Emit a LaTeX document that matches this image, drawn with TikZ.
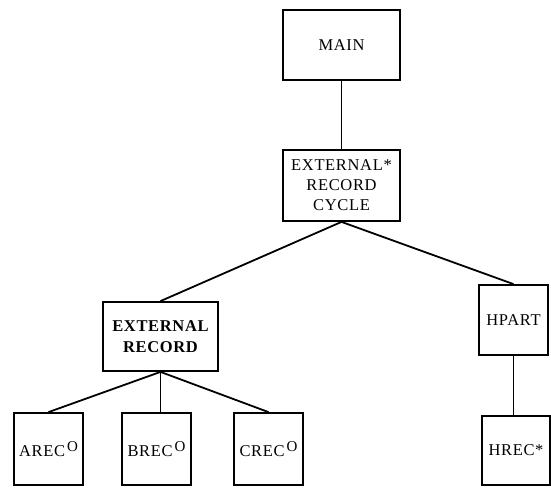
\documentclass[tikz,border=0pt]{standalone}
\usepackage{fontspec}
\setmainfont{Liberation Serif}[LetterSpace=4]
\newcommand{\opn}{\hspace{2pt}\raisebox{0.75ex}{\fontsize{15}{15}\selectfont O}}
\begin{document}
\begin{tikzpicture}[x=1pt,y=-1pt,
  box/.style={draw,line width=1.8pt,inner sep=0pt,align=center,
    font=\fontsize{16.5}{20}\selectfont},
  wide/.style={box,minimum width=117pt,minimum height=70pt},
  leaf/.style={box,minimum width=69pt,minimum height=72pt},
  link/.style={line width=1.8pt}]
\useasboundingbox (0,0) rectangle (551,487);
% structure chart nodes
\node[wide] (main) at (341.5,45) {MAIN};
\node[wide,minimum height=71pt] (cycle) at (341.5,185.5) {EXTERNAL*\\RECORD\\CYCLE};
\node[box,minimum width=115pt,minimum height=69pt,font=\fontsize{16.5}{21}\selectfont\bfseries]
  (ext) at (160.5,336.5) {EXTERNAL\\RECORD};
\node[box,minimum width=69pt,minimum height=70pt] (hpart) at (513.5,320) {HPART};
\node[leaf] (arec) at (48.5,449) {AREC\opn};
\node[leaf] (brec) at (156.5,449) {BREC\opn};
\node[leaf] (crec) at (268.5,449) {CREC\opn};
\node[leaf,minimum width=68pt,minimum height=69pt] (hrec) at (516,450.5) {HREC*};
% connectors
\draw[link] (main.south) -- (cycle.north);
\draw[link] (cycle.south) -- (ext.north);
\draw[link] (cycle.south) -- (hpart.north);
\draw[link] (ext.south) -- (arec.north);
\draw[link] (ext.south) -- (ext.south |- brec.north);
\draw[link] (ext.south) -- (crec.north);
\draw[link] (hpart.south) -- (hpart.south |- hrec.north);
\end{tikzpicture}
\end{document}
